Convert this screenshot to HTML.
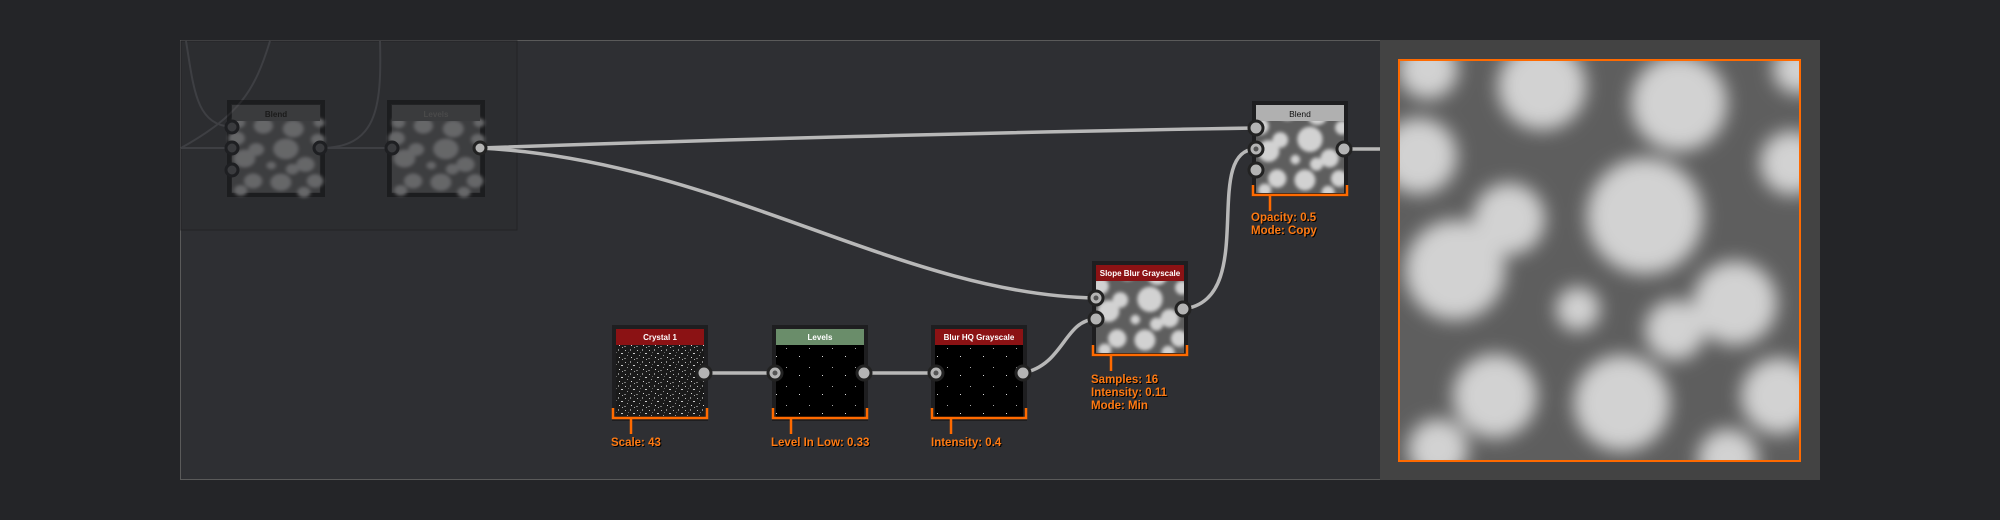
<!DOCTYPE html>
<html><head><meta charset="utf-8"><style>
html,body{margin:0;padding:0;background:#242528;}
body{width:2000px;height:520px;position:relative;overflow:hidden;font-family:"Liberation Sans",sans-serif;}
.lbl{position:absolute;color:#ff7a12;font-size:11.5px;font-weight:bold;line-height:13px;text-shadow:1px 1px 0 #000;white-space:nowrap}
</style></head><body>
<svg width="2000" height="520" style="position:absolute;left:0;top:0">
<defs>
<filter id="bl" x="-20%" y="-20%" width="140%" height="140%"><feGaussianBlur stdDeviation="9"/></filter>
<clipPath id="cp"><rect x="0" y="0" width="403" height="403"/></clipPath>
<g id="tex">
<rect x="0" y="0" width="403" height="403" fill="#5e5e5e"/>
<g filter="url(#bl)" fill="#d2d2d2">
<circle cx="247" cy="157" r="58"/><circle cx="57" cy="211" r="50"/><circle cx="281" cy="44" r="48"/>
<circle cx="337" cy="244" r="42"/><circle cx="111" cy="160" r="36"/><circle cx="224" cy="344" r="48"/>
<circle cx="97" cy="337" r="42"/><circle cx="144" cy="27" r="44"/><circle cx="21" cy="97" r="38"/>
<circle cx="381" cy="337" r="38"/><circle cx="394" cy="104" r="32"/><circle cx="277" cy="271" r="30"/>
<circle cx="40" cy="390" r="30"/><circle cx="330" cy="400" r="30"/><circle cx="180" cy="250" r="22"/>
<circle cx="30" cy="10" r="30"/><circle cx="400" cy="10" r="25"/>
</g></g>
<pattern id="noise" width="12" height="12" patternUnits="userSpaceOnUse">
<rect width="12" height="12" fill="#1a1a1a"/>
<rect x="1" y="2" width="1" height="1" fill="#bbb"/><rect x="6" y="1" width="1" height="2" fill="#888"/>
<rect x="9" y="5" width="2" height="1" fill="#ccc"/><rect x="3" y="7" width="1" height="1" fill="#999"/>
<rect x="7" y="9" width="1" height="1" fill="#ddd"/><rect x="0" y="10" width="2" height="1" fill="#777"/>
<rect x="4" y="4" width="1" height="1" fill="#666"/><rect x="10" y="11" width="1" height="1" fill="#aaa"/>
</pattern>
<pattern id="sparse" width="23" height="19" patternUnits="userSpaceOnUse">
<rect width="23" height="19" fill="#000"/>
<rect x="4" y="6" width="1" height="1" fill="#aaa"/><rect x="17" y="14" width="1" height="1" fill="#ddd"/>
</pattern>
</defs>
<rect x="180.5" y="40.5" width="1639" height="439" fill="#2e2f33" stroke="#5a5a5a"/>
<rect x="181" y="41" width="336" height="189" fill="#2c2d30" stroke="#232326"/>
<g fill="none" stroke="#3e3f43" stroke-width="2">
<path d="M186 41 C194 90 196 125 232 127"/>
<path d="M270 41 C255 90 240 115 181 148"/>
<path d="M380 41 C382 110 376 148 320 148"/>
<path d="M181 148 L232 148"/><path d="M320 148 L392 148"/>
</g>
<g opacity="0.35">
<rect x="229" y="102" width="94" height="93" fill="#111" stroke="#000" stroke-width="4"/>
<g transform="translate(232,121) scale(0.218,0.178)"><use href="#tex"/></g>
<rect x="232" y="105" width="88" height="16" fill="#555"/>
<rect x="389" y="102" width="94" height="93" fill="#111" stroke="#000" stroke-width="4"/>
<g transform="translate(392,121) scale(0.218,0.178)"><use href="#tex"/></g>
<rect x="392" y="105" width="88" height="16" fill="#555"/>
</g>
<g fill="#3a3b3e" stroke="#1e1f22" stroke-width="3">
<circle cx="232" cy="127" r="6"/><circle cx="232" cy="148" r="6"/><circle cx="232" cy="170" r="6"/>
<circle cx="320" cy="148" r="6"/><circle cx="392" cy="148" r="6"/></g>
<text x="276" y="117" font-size="8" fill="#1a1a1a" text-anchor="middle" font-weight="bold">Blend</text>
<text x="436" y="117" font-size="8" fill="#4a4a4a" text-anchor="middle" font-weight="bold">Levels</text>
<g fill="none" stroke="#b8b8b8" stroke-width="3.5">
<path d="M480 148 C700 140 1000 132 1256 128"/>
<path d="M480 148 C720 160 900 295 1096 298"/>
<path d="M1344 149 L1380 149"/>
<path d="M1183 309 C1260 300 1200 150 1256 149"/>
<path d="M1023 373 C1064 365 1064 320 1096 319"/>
<path d="M704 373 L775 373"/><path d="M864 373 L936 373"/>
</g>
<rect x="1380" y="40" width="440" height="440" fill="#434343"/>
<g transform="translate(1398,59)" clip-path="url(#cp)"><use href="#tex"/></g>
<rect x="1399" y="60" width="401" height="401" fill="none" stroke="#ff6a00" stroke-width="2"/>
<!-- right blend -->
<rect x="1252" y="101" width="96" height="96" fill="#1e1e20"/>
<g transform="translate(1256,105)"><svg width="88" height="88" viewBox="0 0 403 403"><use href="#tex"/></svg></g>
<rect x="1256" y="105" width="88" height="16" fill="#b0b0b0"/>
<text x="1300" y="117" font-size="8.5" fill="#111" text-anchor="middle">Blend</text>
<!-- slope blur -->
<rect x="1092" y="261" width="96" height="96" fill="#1e1e20"/>
<g transform="translate(1096,265)"><svg width="88" height="88" viewBox="0 0 403 403" preserveAspectRatio="none"><use href="#tex"/></svg></g>
<rect x="1096" y="265" width="88" height="16" fill="#8b1214"/>
<text x="1140" y="276" font-size="8" fill="#fff" text-anchor="middle" font-weight="bold">Slope Blur Grayscale</text>
<!-- crystal -->
<rect x="612" y="325" width="96" height="96" fill="#1e1e20"/>
<rect x="616" y="329" width="88" height="88" fill="url(#noise)"/>
<rect x="616" y="329" width="88" height="16" fill="#8b1214"/>
<text x="660" y="340" font-size="8" fill="#fff" text-anchor="middle" font-weight="bold">Crystal 1</text>
<!-- levels -->
<rect x="772" y="325" width="96" height="96" fill="#1e1e20"/>
<rect x="776" y="329" width="88" height="88" fill="url(#sparse)"/>
<rect x="776" y="329" width="88" height="16" fill="#6a8d6a"/>
<text x="820" y="340" font-size="8" fill="#fff" text-anchor="middle" font-weight="bold">Levels</text>
<!-- blur hq -->
<rect x="931" y="325" width="96" height="96" fill="#1e1e20"/>
<rect x="935" y="329" width="88" height="88" fill="url(#sparse)"/>
<rect x="935" y="329" width="88" height="16" fill="#8b1214"/>
<text x="979" y="340" font-size="8" fill="#fff" text-anchor="middle" font-weight="bold">Blur HQ Grayscale</text>
<g fill="#b4b4b4" stroke="#222" stroke-width="3">
<circle cx="480" cy="148" r="6"/>
<circle cx="1256" cy="128" r="7"/><circle cx="1256" cy="149" r="7"/><circle cx="1256" cy="170" r="7"/><circle cx="1344" cy="149" r="7"/>
<circle cx="1096" cy="298" r="7"/><circle cx="1096" cy="319" r="7"/><circle cx="1183" cy="309" r="7"/>
<circle cx="704" cy="373" r="7"/><circle cx="775" cy="373" r="7"/><circle cx="864" cy="373" r="7"/>
<circle cx="936" cy="373" r="7"/><circle cx="1023" cy="373" r="7"/>
</g>
<g fill="#555"><circle cx="1256" cy="149" r="2.5"/><circle cx="1096" cy="298" r="2.5"/><circle cx="775" cy="373" r="2.5"/><circle cx="936" cy="373" r="2.5"/></g>
<g fill="none" stroke="#ff6a00" stroke-width="2.5">
<path d="M613 408 V418 H707 V408 M631 418 V434"/>
<path d="M773 408 V418 H867 V408 M791 418 V434"/>
<path d="M932 408 V418 H1026 V408 M951 418 V434"/>
<path d="M1093 345 V355 H1187 V345 M1111 355 V371"/>
<path d="M1253 185 V195 H1347 V185 M1270 195 V211"/>
</g>
</svg>
<div class="lbl" style="left:611px;top:437px">Scale: 43</div>
<div class="lbl" style="left:771px;top:437px">Level In Low: 0.33</div>
<div class="lbl" style="left:931px;top:437px">Intensity: 0.4</div>
<div class="lbl" style="left:1091px;top:374px">Samples: 16<br>Intensity: 0.11<br>Mode: Min</div>
<div class="lbl" style="left:1251px;top:212px">Opacity: 0.5<br>Mode: Copy</div>
</body></html>
